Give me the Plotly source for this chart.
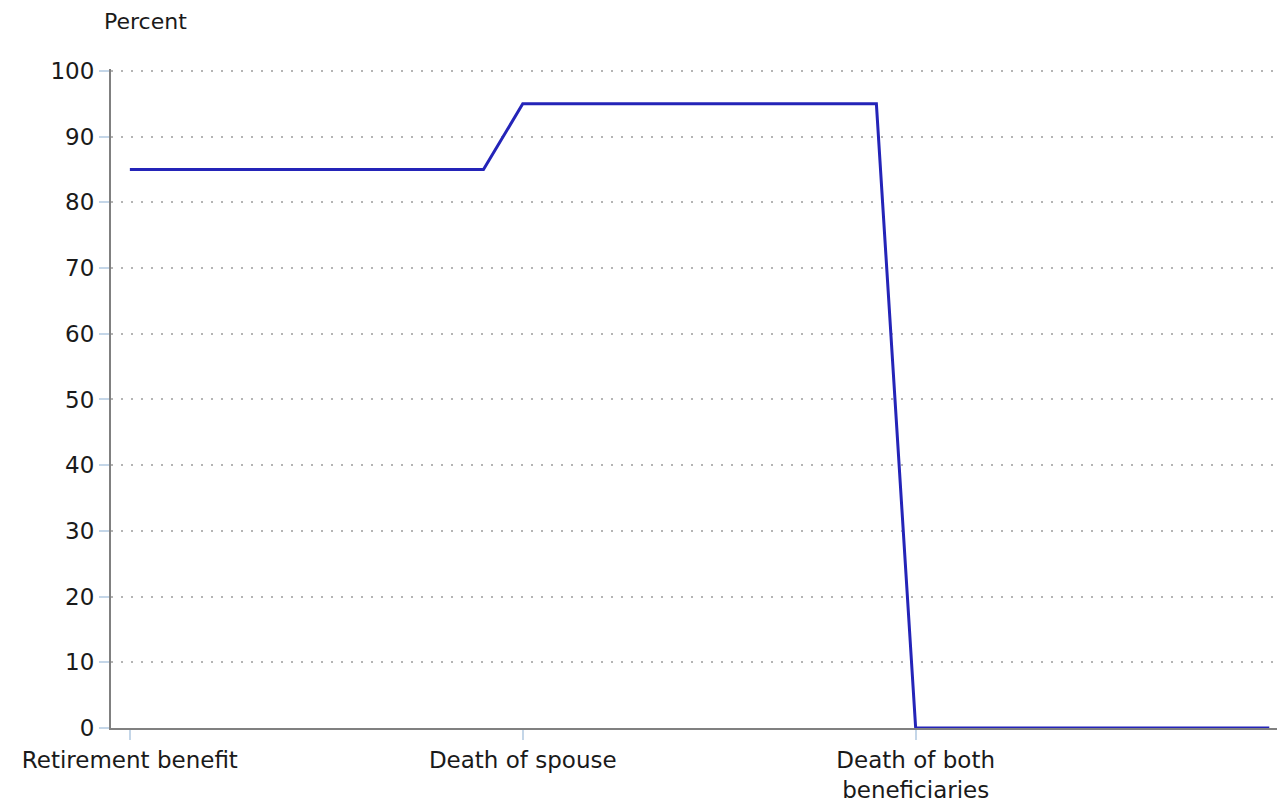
import plotly.graph_objects as go

# category labels and their positions on the x axis
categories = ["Retirement benefit", "Death of spouse", "Death of both<br>beneficiaries"]
category_pos = [0, 1, 2]

# the benefit line (percent of benefit over the stages)
x_vals = [0, 0.9, 1, 1.9, 2, 2.9]
y_vals = [85, 85, 95, 95, 0, 0]

y_ticks = [0, 10, 20, 30, 40, 50, 60, 70, 80, 90, 100]

font_family = "DejaVu Sans"

fig = go.Figure()
fig.add_trace(go.Scatter(
    x=x_vals,
    y=y_vals,
    mode='lines',
    line=dict(color='#2424b8', width=3),
    showlegend=False,
    hoverinfo='skip'
))

fig.update_layout(
    width=1285,
    height=804,
    paper_bgcolor='white',
    plot_bgcolor='white',
    # page body has an 8px margin, so shift everything up/left by 8
    margin=dict(l=103, r=8, t=61, b=84),
    font=dict(family=font_family, size=23, color='#1a1a1a'),
    xaxis=dict(
        range=[-0.048, 2.94],
        tickvals=category_pos,
        ticktext=categories,
        showgrid=False,
        zeroline=False,
        showline=True,
        linecolor='#808080',
        linewidth=2,
        ticks='outside',
        ticklen=10,
        tickcolor='#c4d6e8',
        tickwidth=2,
        tickfont=dict(size=23),
    ),
    yaxis=dict(
        # a touch above 100 so the top grid line is still drawn
        range=[0, 100.3],
        tickvals=y_ticks,
        showgrid=True,
        gridcolor='#b4b4b4',
        griddash='2px,8px',
        gridwidth=2,
        zeroline=False,
        showline=True,
        linecolor='#808080',
        linewidth=2,
        ticks='outside',
        ticklen=10,
        tickcolor='#c4d6e8',
        tickwidth=2,
        tickfont=dict(size=23),
    ),
    annotations=[dict(
        text="Percent",
        xref='paper', yref='paper',
        x=-0.008, y=1.0, yshift=48,
        xanchor='left', yanchor='middle',
        showarrow=False,
        font=dict(size=22, family=font_family),
    )],
)

fig.write_html("out.html")
